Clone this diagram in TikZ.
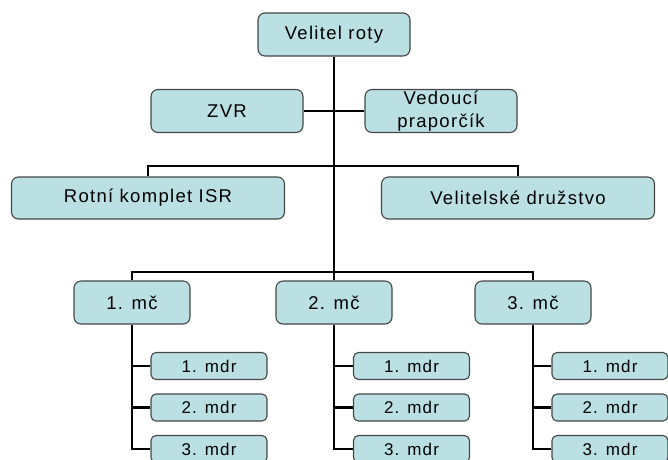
\documentclass[tikz,border=0pt]{standalone}
\usepackage{fontspec}
\newfontfamily\orgfont[LetterSpace=7]{Liberation Sans}
\usetikzlibrary{positioning}
\definecolor{boxfill}{RGB}{186,224,227}
\definecolor{boxline}{RGB}{70,70,70}

\begin{document}
\begin{tikzpicture}[
  x=1pt, y=-1pt,
  font=\orgfont\fontsize{18.5}{23}\selectfont,
  unit/.style={draw=boxline, fill=boxfill, line width=1.1pt, rounded corners=7pt,
               align=center, inner sep=0pt},
  bigunit/.style={unit, minimum width=152pt, minimum height=43pt},
  wideunit/.style={unit, minimum width=273pt, minimum height=42pt},
  mcunit/.style={unit, minimum width=116pt, minimum height=43pt},
  mdrunit/.style={unit, minimum width=116pt, minimum height=27pt, rounded corners=5pt,
                  font=\orgfont\fontsize{17}{20}\selectfont},
  link/.style={line width=2.6pt, black},
]
\clip (0,0) rectangle (668,459);

% --- Command level ---
\node[bigunit] (top) at (334,34.5) {Velitel roty};
\node[bigunit] (zvr) at (227,111) {ZVR};
\node[bigunit] (ved) at (441,111) {Vedoucí\\praporčík};

% --- Company elements ---
\node[wideunit] (isr) at (148,198) {Rotní komplet ISR};
\node[wideunit] (druz) at (518,198) {Velitelské družstvo};

% --- Platoons ---
\node[mcunit] (mc1) at (132,302.5) {1. mč};
\node[mcunit] (mc2) at (334,302.5) {2. mč};
\node[mcunit] (mc3) at (533,302.5) {3. mč};

% --- Squads ---
\node[mdrunit] (mdrA1) at (209,366) {1. mdr};
\node[mdrunit] (mdrA2) at (209,407.5) {2. mdr};
\node[mdrunit] (mdrA3) at (209,449) {3. mdr};
\node[mdrunit] (mdrB1) at (411.5,366) {1. mdr};
\node[mdrunit] (mdrB2) at (411.5,407.5) {2. mdr};
\node[mdrunit] (mdrB3) at (411.5,449) {3. mdr};
\node[mdrunit] (mdrC1) at (610,366) {1. mdr};
\node[mdrunit] (mdrC2) at (610,407.5) {2. mdr};
\node[mdrunit] (mdrC3) at (610,449) {3. mdr};

% --- Branch points ---
\coordinate (bar1) at (334,166);
\coordinate (bar2) at (334,272);

% --- Connectors ---
\draw[link] (top.south) -- (mc2.north);
\draw[link] (zvr.east) -- (ved.west);
\draw[link] (isr.north) |- (bar1) -| (druz.north);
\draw[link] (mc1.north) |- (bar2) -| (mc3.north);

\draw[link] (mc1.south) |- (mdrA3.west);
\draw[link] (mdrA1.west -| mc1.south) -- (mdrA1.west);
\draw[link] (mdrA2.west -| mc1.south) -- (mdrA2.west);

\draw[link] (mc2.south) |- (mdrB3.west);
\draw[link] (mdrB1.west -| mc2.south) -- (mdrB1.west);
\draw[link] (mdrB2.west -| mc2.south) -- (mdrB2.west);

\draw[link] (mc3.south) |- (mdrC3.west);
\draw[link] (mdrC1.west -| mc3.south) -- (mdrC1.west);
\draw[link] (mdrC2.west -| mc3.south) -- (mdrC2.west);

\end{tikzpicture}
\end{document}
